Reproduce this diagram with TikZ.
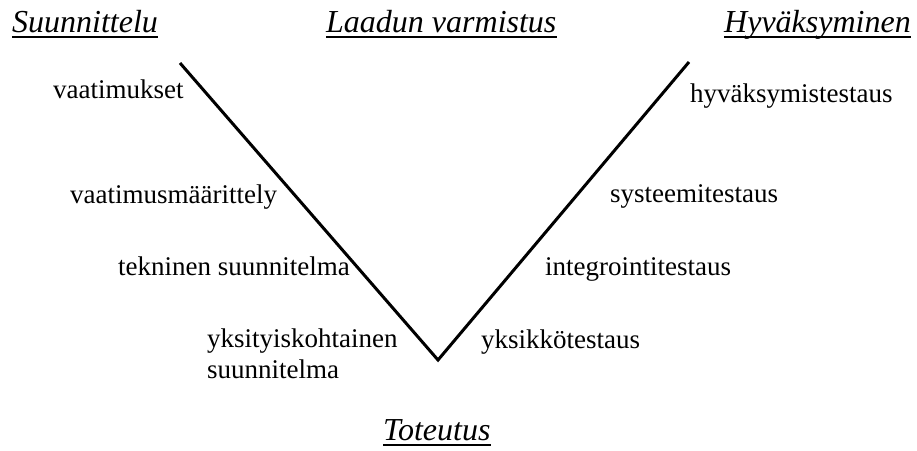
\documentclass[tikz,border=0pt]{standalone}
\usepackage{fontspec}
\newfontfamily\fa{Liberation Serif}
\begin{document}
\begin{tikzpicture}[
  lbl/.style={inner sep=0pt,anchor=base west,font=\fontsize{27}{30}\selectfont},
  ttl/.style={inner sep=0pt,anchor=base west,font=\fontsize{32}{36}\selectfont},
  uline/.style={line width=2pt},
  vline/.style={line width=3pt,line join=miter}]
\useasboundingbox (0pt,0pt) rectangle (917pt,-450pt);
% titles
\node[ttl] (t1) at (12pt,-32pt) {\fa\itshape Suunnittelu};
\node[ttl] (t2) at (326pt,-32pt) {\fa\itshape Laadun varmistus};
\node[ttl] (t3) at (724pt,-32pt) {\fa\itshape Hyväksyminen};
\node[ttl] (t4) at (383pt,-440pt) {\fa\itshape Toteutus};
\draw[uline] ([yshift=-4.5pt]t1.base west) -- ([yshift=-4.5pt]t1.base east);
\draw[uline] ([yshift=-4.5pt]t2.base west) -- ([yshift=-4.5pt]t2.base east);
\draw[uline] ([yshift=-4.5pt]t3.base west) -- ([yshift=-4.5pt]t3.base east);
\draw[uline] ([yshift=-4.5pt]t4.base west) -- ([yshift=-4.5pt]t4.base east);
% V shape
\coordinate (a) at (180pt,-63pt);
\coordinate (b) at (438pt,-360pt);
\coordinate (c) at (689pt,-62pt);
\draw[vline] (a) -- (b) -- (c);
% left labels
\node[lbl] (l1) at (53pt,-98pt) {\fa vaatimukset};
\node[lbl] (l2) at (70pt,-203pt) {\fa vaatimusmäärittely};
\node[lbl] (l3) at (118pt,-275pt) {\fa tekninen suunnitelma};
\node[lbl] (l4) at (207pt,-347pt) {\fa yksityiskohtainen};
\node[lbl] (l5) at (207pt,-378pt) {\fa suunnitelma};
% right labels
\node[lbl] (r1) at (690pt,-102pt) {\fa hyväksymistestaus};
\node[lbl] (r2) at (610pt,-202pt) {\fa systeemitestaus};
\node[lbl] (r3) at (545pt,-275pt) {\fa integrointitestaus};
\node[lbl] (r4) at (481pt,-348pt) {\fa yksikkötestaus};
\end{tikzpicture}
\end{document}
